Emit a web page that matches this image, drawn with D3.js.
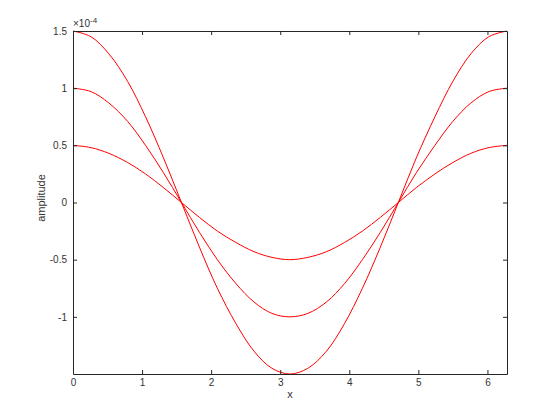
<!DOCTYPE html>
<html>
<head>
<meta charset="utf-8">
<style>
body { margin: 0; background: #fff; }
text { font-family: "Liberation Sans", Arial, sans-serif; }
</style>
</head>
<body>
<svg width="560" height="420"></svg>
<script src="https://d3js.org/d3.v7.min.js"></script>
<script>
// x positions (0 .. 2*pi, step pi/12)
var xValues = [0, 0.26, 0.52, 0.79, 1.05, 1.31, 1.57, 1.83, 2.09, 2.36, 2.62, 2.88, 3.14,
               3.40, 3.67, 3.93, 4.19, 4.45, 4.71, 4.97, 5.24, 5.50, 5.76, 6.02, 6.28];

// amplitudes, in units of 1e-4
var wave1 = [1.50, 1.45, 1.30, 1.06, 0.75, 0.39, 0.00, -0.39, -0.75, -1.06, -1.30, -1.45, -1.50,
             -1.45, -1.30, -1.06, -0.75, -0.39, 0.00, 0.39, 0.75, 1.06, 1.30, 1.45, 1.50];
var wave2 = [1.00, 0.97, 0.87, 0.71, 0.50, 0.26, 0.00, -0.26, -0.50, -0.71, -0.87, -0.97, -1.00,
             -0.97, -0.87, -0.71, -0.50, -0.26, 0.00, 0.26, 0.50, 0.71, 0.87, 0.97, 1.00];
var wave3 = [0.50, 0.48, 0.43, 0.35, 0.25, 0.13, 0.00, -0.13, -0.25, -0.35, -0.43, -0.48, -0.50,
             -0.48, -0.43, -0.35, -0.25, -0.13, 0.00, 0.13, 0.25, 0.35, 0.43, 0.48, 0.50];

var xTicks = [0, 1, 2, 3, 4, 5, 6];
var yTicks = [-1, -0.5, 0, 0.5, 1, 1.5];

var svg = d3.select("svg");
var plotLeft = 73, plotRight = 507, plotTop = 31, plotBottom = 374;

var x = d3.scaleLinear().domain([0, 2 * Math.PI]).range([plotLeft, plotRight]);
var y = d3.scaleLinear().domain([-1.5, 1.5]).range([plotBottom, plotTop]);

var axisColor = "#262626";
var textColor = "#333";

// curves
var line = d3.line()
    .x(function(d, i) { return x(xValues[i]); })
    .y(function(d) { return y(d); })
    .curve(d3.curveCatmullRom);

[wave1, wave2, wave3].forEach(function(w) {
  svg.append("path")
     .attr("d", line(w))
     .attr("fill", "none")
     .attr("stroke", "#ff0000")
     .attr("stroke-width", 1);
});

// axes with inward ticks on all four sides
function styleAxis(g) {
  g.selectAll("path.domain").attr("stroke", axisColor);
  g.selectAll(".tick line").attr("stroke", axisColor);
  g.selectAll(".tick text").attr("fill", textColor).style("font-size", "10px");
}

// plain hyphen minus, like the original
var plain = function(d) { return String(d); };

svg.append("g")
   .attr("transform", "translate(0," + plotBottom + ")")
   .call(d3.axisBottom(x).tickValues(xTicks).tickSizeInner(-4).tickSizeOuter(0).tickPadding(5).tickFormat(plain))
   .call(styleAxis);

svg.append("g")
   .attr("transform", "translate(0," + plotTop + ")")
   .call(d3.axisTop(x).tickValues(xTicks).tickSizeInner(-4).tickSizeOuter(0).tickFormat(""))
   .call(styleAxis);

svg.append("g")
   .attr("transform", "translate(" + plotLeft + ",0)")
   .call(d3.axisLeft(y).tickValues(yTicks).tickSizeInner(-4).tickSizeOuter(0).tickPadding(6).tickFormat(plain))
   .call(styleAxis);

svg.append("g")
   .attr("transform", "translate(" + plotRight + ",0)")
   .call(d3.axisRight(y).tickValues(yTicks).tickSizeInner(-4).tickSizeOuter(0).tickFormat(""))
   .call(styleAxis);

// exponent label
var ex = svg.append("text")
   .attr("x", plotLeft)
   .attr("y", plotTop - 4)
   .attr("fill", textColor)
   .style("font-size", "10px");
ex.append("tspan").text("\u00d710");
ex.append("tspan").attr("dy", -4).style("font-size", "8px").text("-4");

// axis labels
svg.append("text")
   .attr("x", (plotLeft + plotRight) / 2)
   .attr("y", 398)
   .attr("text-anchor", "middle")
   .attr("fill", textColor)
   .style("font-size", "11px")
   .text("x");

svg.append("text")
   .attr("transform", "translate(45,198) rotate(-90)")
   .attr("text-anchor", "middle")
   .attr("fill", textColor)
   .style("font-size", "11px")
   .text("amplitude");
</script>
</body>
</html>
